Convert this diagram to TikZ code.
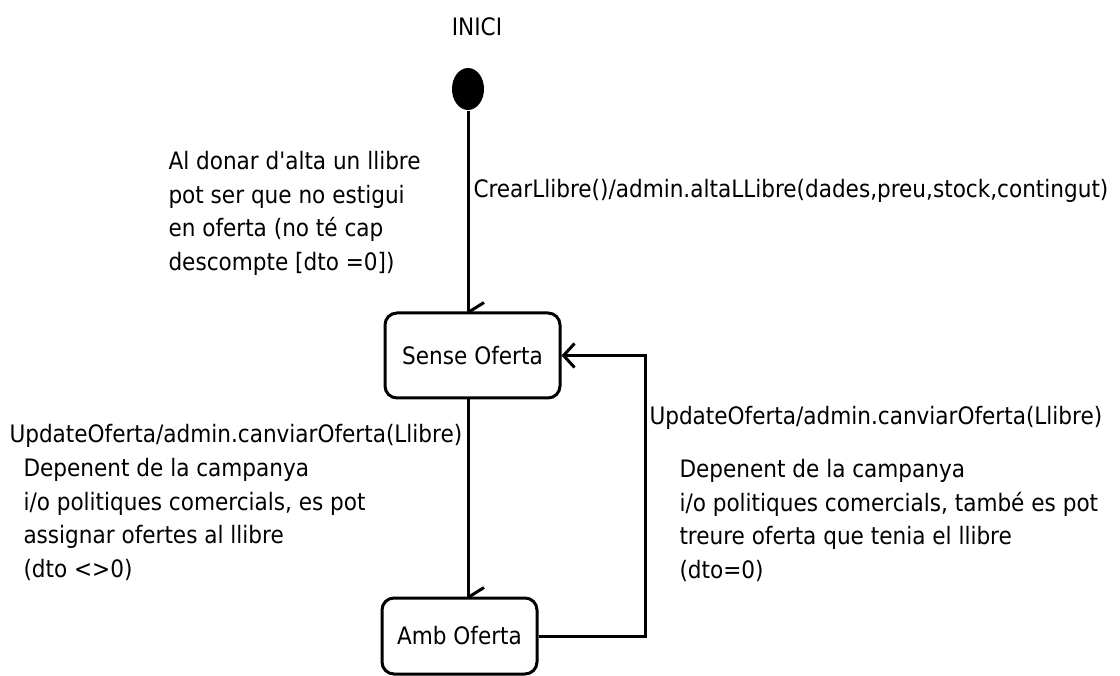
\documentclass[tikz,border=0pt]{standalone}
\usepackage{fontspec}
\setmainfont{DejaVu Sans Condensed}
\usetikzlibrary{arrows.meta,shapes.geometric}
\begin{document}
\begin{tikzpicture}[x=1pt,y=-1pt,line width=3pt,
  txt/.style={font=\fontsize{24}{33.6}\selectfont, inner sep=0pt, align=left},
  state/.style={draw, rounded corners=12pt, inner sep=0pt, font=\fontsize{24}{28}\selectfont},
  barb/.style={-{Straight Barb[length=11pt,width=24pt]}}]
\useasboundingbox (0,0) rectangle (1120,676);

\node[txt] (inici) at (477,27) {INICI};
\node[ellipse, fill, minimum width=32pt, minimum height=42pt, inner sep=0pt] (init) at (468,89) {};

\node[state, minimum width=175pt, minimum height=85pt] (sense) at (472.5,355.5) {Sense Oferta};
\node[state, minimum width=155pt, minimum height=76pt] (amb) at (459.5,636) {Amb Oferta};

% transitions
\coordinate (e1) at (init.south |- sense.north);
\draw (init.south) -- (e1);
\draw ([yshift=-1pt]e1) -- ++(16,-10);
\coordinate (e2) at (init.south |- amb.north);
\draw (init.south |- sense.south) -- (e2);
\draw ([yshift=-1pt]e2) -- ++(16,-10);
\coordinate (corner) at (645,0);
\draw[barb] (amb.east) -- (amb.east -| corner) -- (sense.east -| corner) -- (sense.east);

% labels
\node[txt, anchor=west] (crear) at (472,191) {CrearLlibre()/admin.altaLLibre(dades,preu,stock,contingut)};
\node[txt, anchor=north west] (nota1) at (167,150) {Al donar d\textquotesingle alta un llibre\\pot ser que no estigui\\en oferta (no té cap\\descompte [dto =0])};
\node[txt, anchor=west] (upd1) at (8,436) {UpdateOferta/admin.canviarOferta(Llibre)};
\node[txt, anchor=north west] (nota2) at (22,457) {Depenent de la campanya\\i/o politiques comercials, es pot\\assignar ofertes al llibre\\(dto <>0)};
\node[txt, anchor=west] (upd2) at (648,418) {UpdateOferta/admin.canviarOferta(Llibre)};
\node[txt, anchor=north west] (nota3) at (678,458) {Depenent de la campanya\\i/o politiques comercials, també es pot\\treure oferta que tenia el llibre\\(dto=0)};
\end{tikzpicture}
\end{document}
